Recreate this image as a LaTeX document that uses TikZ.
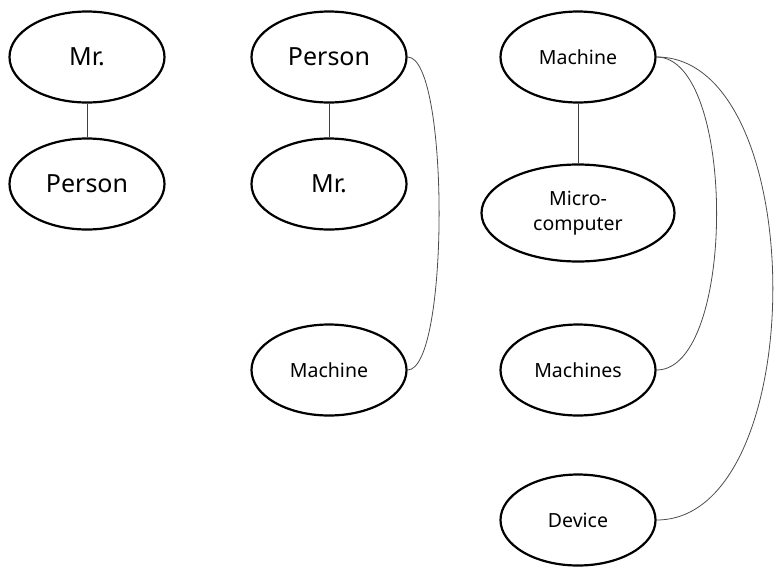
\documentclass[tikz,border=0pt]{standalone}
\usepackage{fontspec}
\setmainfont{Noto Sans}
\usetikzlibrary{shapes.geometric, positioning, calc}

\tikzset{
  concept/.style={draw, ellipse, line width=2.2pt, minimum width=155pt, minimum height=91pt, inner sep=0pt, align=center},
  big/.style={font=\fontsize{25}{30}\selectfont},
  small/.style={font=\fontsize{19.5}{25}\selectfont},
  link/.style={draw=black!75, line width=1pt},
  arc/.style={draw=black!70, line width=0.8pt}
}

\begin{document}
\begin{tikzpicture}[x=1pt, y=-1pt]
      \useasboundingbox (0,0) rectangle (776,566);

      \node[concept, big] (mr1) at (87, 57) {Mr.};
      \node[concept, big] (person1) at (87, 184) {Person};
      \draw[link] (mr1) -- (person1);

      \node[concept, big] (person2) at (329, 57) {Person};
      \node[concept, big] (mr2) at (329, 184) {Mr.};
      \node[concept, small] (machine2) at (329, 370) {Machine};
      \draw[link] (person2) -- (mr2);
      \draw[arc] (person2.east) .. controls +(42,0) and +(42,0) .. (machine2.east);

      \node[concept, small] (machine3) at (578, 57) {Machine};
      \node[concept, small, minimum width=193pt, minimum height=97pt] (micro) at (578, 213) {Micro-\\computer};
      \node[concept, small] (machines) at (578, 370) {Machines};
      \node[concept, small] (device) at (578, 520) {Device};
      \draw[link] (machine3) -- (micro);
      \draw[arc] (machine3.east) .. controls +(80,0) and +(80,0) .. (machines.east);
      \draw[arc] (machine3.east) .. controls +(155,0) and +(155,0) .. (device.east);

\end{tikzpicture}
\end{document}
